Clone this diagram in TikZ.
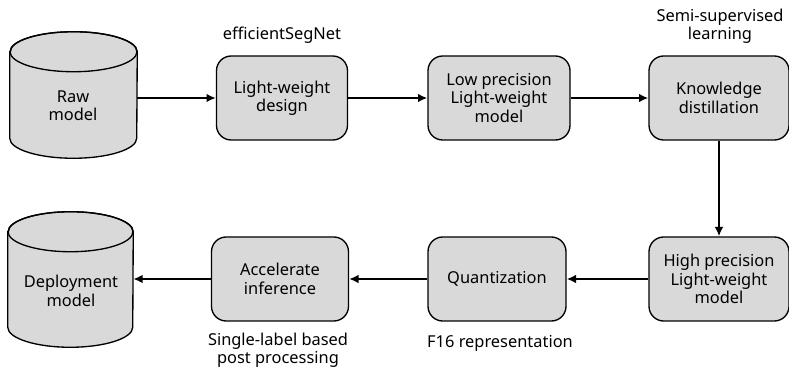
\documentclass[tikz,border=0pt]{standalone}
\usepackage{fontspec}
\setmainfont{Noto Sans}
\usetikzlibrary{arrows.meta}
\definecolor{boxgray}{HTML}{D9D9D9}
\begin{document}
\begin{tikzpicture}[x=.75pt,y=-.75pt,font=\fontsize{12.3}{13.8}\selectfont,
  box/.style={draw,line width=1pt,fill=boxgray,rounded corners=11pt,align=center,
    minimum height=63pt},
  drum/.style={draw,line width=1pt,fill=boxgray},
  flow/.style={line width=1.8pt,-{Latex[length=7pt,width=6.5pt]}}]
  \useasboundingbox (0,0) rectangle (789,370);
  % the two stores, drawn as cylinders round an empty node
  \foreach \name/\x/\y/\w/\h in {raw/73.5/95/127/126, deploy/70.5/279.5/125/135} {
    \node[minimum width=\w*.75pt,minimum height=\h*.75pt,inner sep=0pt] (\name) at (\x,\y) {};
    \draw[drum] ([yshift=-15pt]\name.north west) -- ([yshift=15pt]\name.south west)
      arc[start angle=180,end angle=360,x radius=\w*.375pt,y radius=15pt]
      -- ([yshift=-15pt]\name.north east)
      arc[start angle=0,end angle=180,x radius=\w*.375pt,y radius=15pt] -- cycle;
    \draw[line width=1pt] ([yshift=-15pt]\name.north) ellipse[x radius=\w*.375pt,y radius=15pt];
  }
  \node[align=center] (rawtxt) at (73,106) {Raw\\model};
  \node[align=center] (deploytxt) at (71,291) {Deployment\\model};
  % the process boxes
  \foreach \name/\x/\y/\w/\txt in {
    design/282/98/131/{Light-weight\\design},
    lowprec/499/98/142/{Low precision\\Light-weight\\model},
    distill/719/98/140/{Knowledge\\distillation},
    highprec/719/279/140/{High precision\\Light-weight\\model},
    quant/497/279/138/{Quantization},
    accel/280/279/137/{Accelerate\\inference}}
  {
    \node[box,minimum width=\w*.75pt] (\name) at (\x,\y) {\txt};
  }
  % notes beside the steps
  \node (segnet) at (282,35) {efficientSegNet};
  \node[align=center] (semi) at (720,26) {Semi-supervised\\learning};
  \node (f16) at (500,343) {F16 representation};
  \node[align=center] (single) at (278,350) {Single-label based\\post processing};
  % arrows
  \draw[flow] (raw.east |- design.west) -- (design.west);
  \draw[flow] (design) -- (lowprec);
  \draw[flow] (lowprec) -- (distill);
  \draw[flow] (distill) -- (highprec);
  \draw[flow] (highprec) -- (quant);
  \draw[flow] (quant) -- (accel);
  \draw[flow] (accel) -- (deploy.east |- accel.west);
\end{tikzpicture}
\end{document}
